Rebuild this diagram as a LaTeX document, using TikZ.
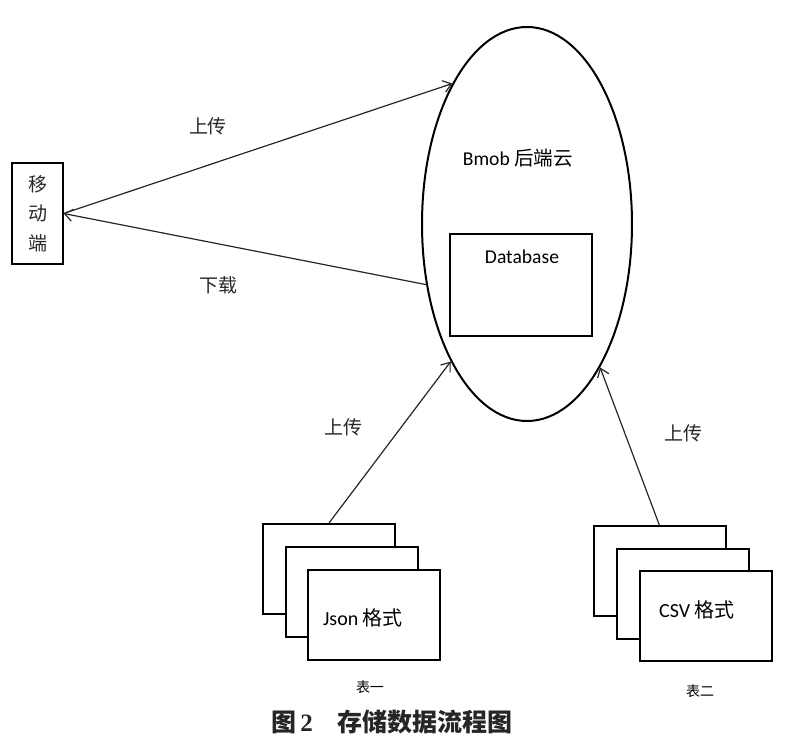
\documentclass[tikz,border=0pt]{standalone}
\usepackage{fontspec}
\setmainfont{Carlito}
\newfontfamily\cjk{Noto Sans CJK SC}
\newfontfamily\capserif{Liberation Serif}
\usetikzlibrary{arrows.meta,shapes.geometric}

\tikzset{
  sheet/.style={draw, line width=1pt, fill=white, minimum width=66pt,
    minimum height=45pt, inner sep=0pt},
  flow/.style={-{Straight Barb[length=4pt,width=6pt]}, line width=0.6pt, black!85},
  cn/.style={font=\cjk\fontsize{9.5}{11}\selectfont, text=black!85},
}

\begin{document}
\begin{tikzpicture}[x=0.5pt, y=-0.5pt]
\useasboundingbox (0,0) rectangle (800,743);

%% === Backend cloud ===
\node[ellipse, draw, line width=1pt, minimum width=105pt, minimum height=197pt,
  inner sep=0pt] (cloud) at (527,224) {};
\node[font=\fontsize{9.8}{11}\selectfont] (bmob) at (518,158) {Bmob {\cjk 后端云}};
% database box
\node[draw, line width=0.6pt, minimum width=71pt, minimum height=51pt,
  inner sep=0pt] (db) at (521,285) {};
\node[font=\fontsize{9.8}{11}\selectfont] (dbtext) at (522,257) {Database};

%% === Mobile client ===
\node[draw, line width=0.6pt, minimum width=25.5pt, minimum height=50.5pt,
  inner sep=0pt, align=center, text=black!85,
  font=\cjk\fontsize{9.5}{14.75}\selectfont] (mobile) at (37.5,213.5) {移\\动\\端};
% upload / download
\draw[flow] (mobile.east) -- (cloud.118);
\draw[flow] (cloud.211) -- (mobile.east);
\node[cn] (upmob) at (208,126) {上传};
\node[cn] (down) at (218,285) {下载};

%% === Table stacks ===
\foreach \i in {0,1,2} {
  \node[sheet] (json\i) at ({329+22.5*\i},{569+22.8*\i}) {};
  \node[sheet] (csv\i) at ({659.5+23*\i},{571.5+22.3*\i}) {};
}
\node[font=\fontsize{10}{12}\selectfont] (jsontext) at (363,618) {Json {\cjk 格式}};
\node[font=\fontsize{10}{12}\selectfont] (csvtext) at (697,610) {CSV {\cjk 格式}};
% uploads to the cloud
\draw[flow] (json0.north) -- (cloud.241.7);
\draw[flow] (csv0.north) -- (cloud.297);
\node[cn] (upjson) at (343,427) {上传};
\node[cn] (upcsv) at (683,433) {上传};
% table names
\node[font=\cjk\fontsize{7}{8}\selectfont] (tab1) at (370,687) {表一};
\node[font=\cjk\fontsize{7}{8}\selectfont] (tab2) at (700,691) {表二};

%% === Caption ===
\node[font=\cjk\bfseries\fontsize{12.5}{14}\selectfont, text=black!85] (caption)
  at (392,722) {图\,{\capserif\bfseries 2}\quad 存储数据流程图};

\end{tikzpicture}
\end{document}
